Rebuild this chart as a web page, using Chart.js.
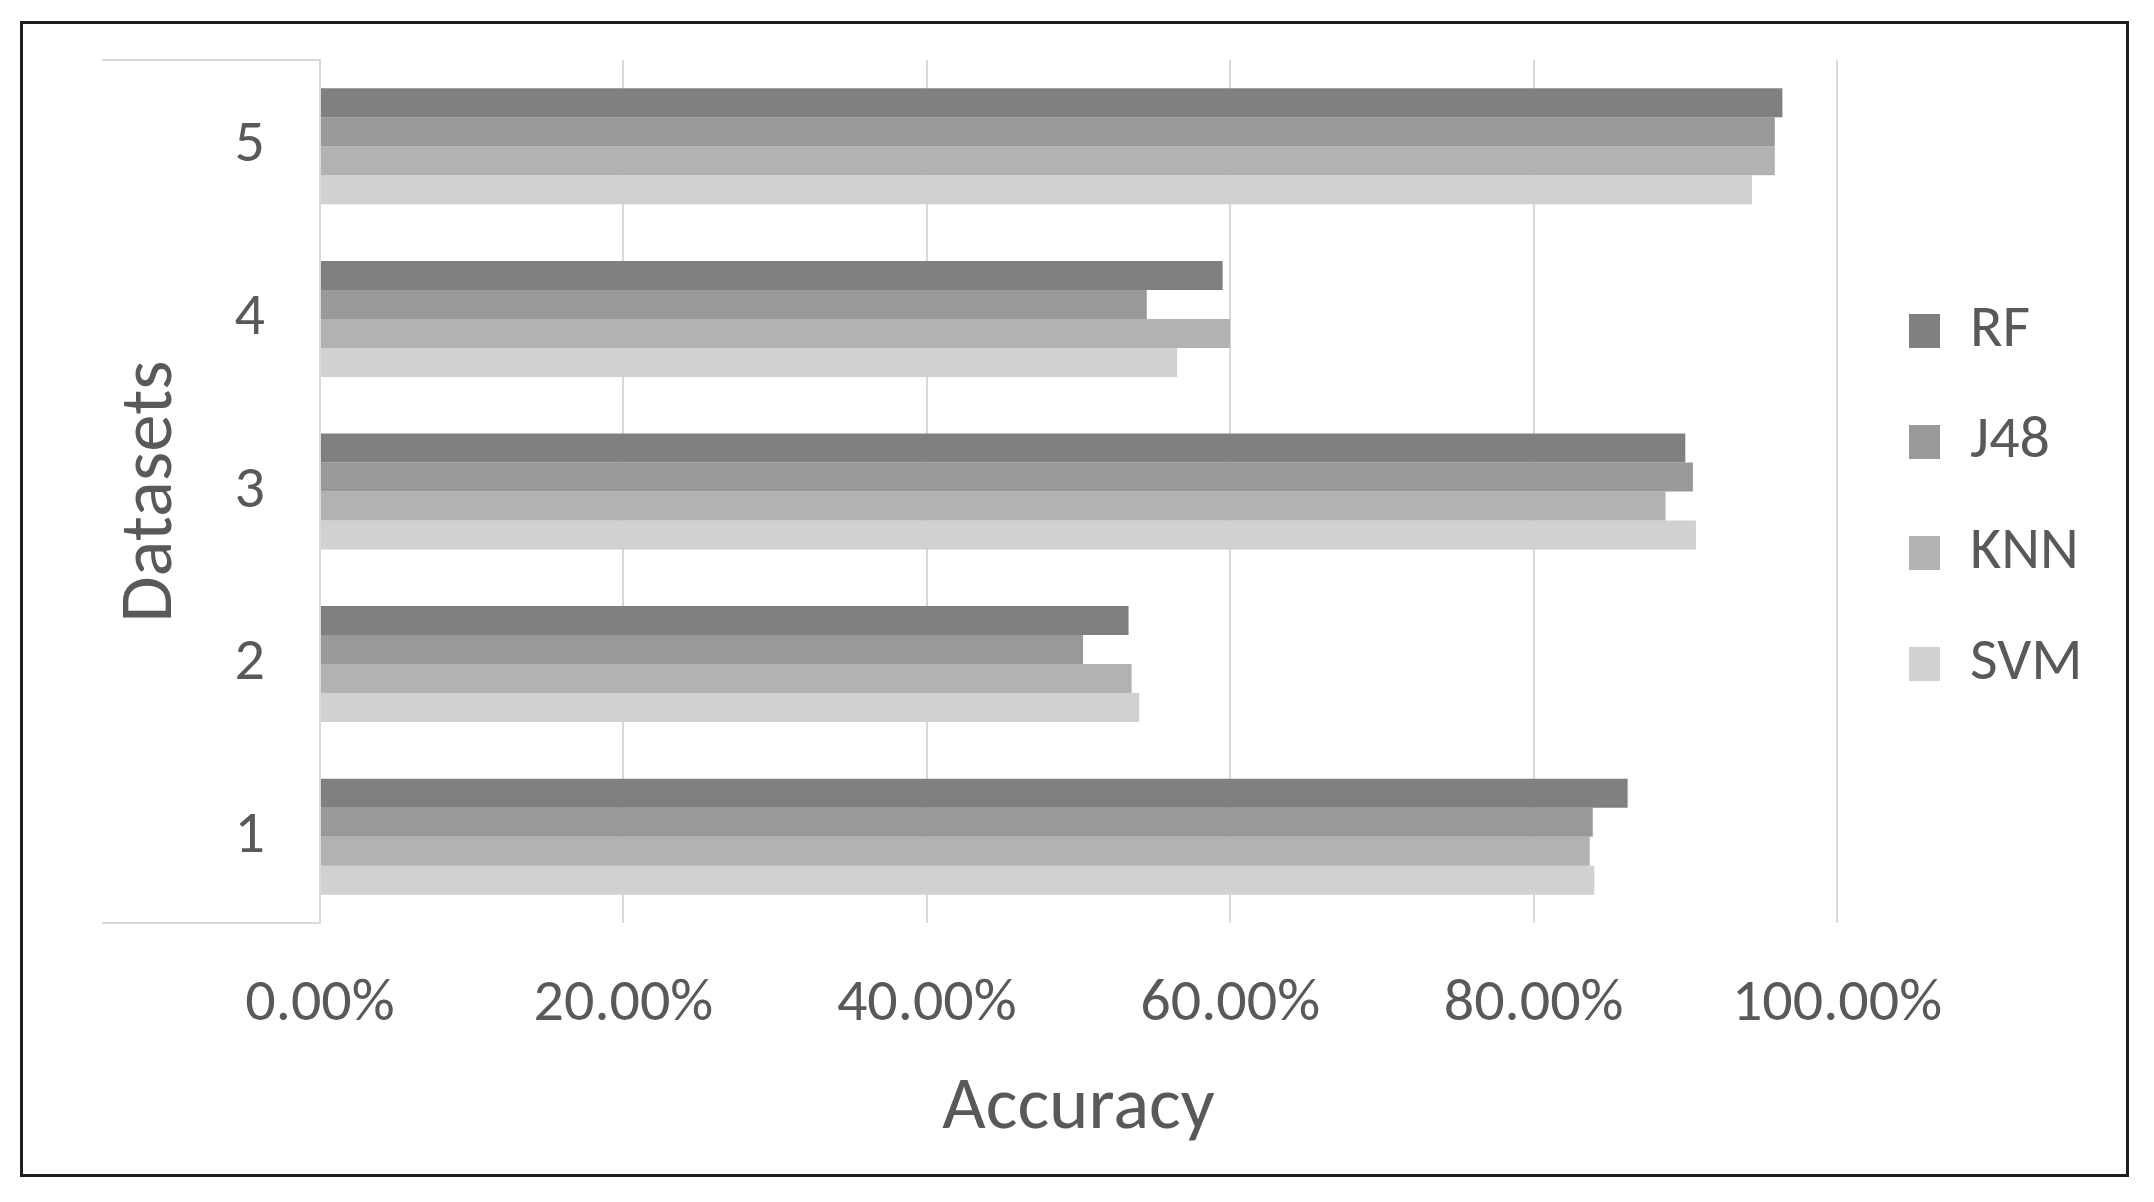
<!DOCTYPE html>
<html>
<head>
<meta charset="utf-8">
<title>Accuracy by dataset</title>
<script src="https://cdn.jsdelivr.net/npm/chart.js@4.4.0/dist/chart.umd.min.js"></script>
<style>
  body { margin: 0; background: #fff; }
  #frame { position: absolute; left: 20px; top: 21px; width: 2103px; height: 1150px; border: 3px solid #1e1e1e; }
</style>
</head>
<body>
<div id="frame"><canvas id="accChart"></canvas></div>
<script>
// accuracy (%) per dataset, datasets 1..5
var datasetLabels = ["1", "2", "3", "4", "5"];
var rfAcc = [86.2, 53.3, 90.0, 59.5, 96.4];
var j48Acc = [83.9, 50.3, 90.5, 54.5, 95.9];
var knnAcc = [83.7, 53.5, 88.7, 60.0, 95.9];
var svmAcc = [84.0, 54.0, 90.7, 56.5, 94.4];
var accuracyTicks = [0, 20, 40, 60, 80, 100];

var fontFamily = "Carlito, Calibri, 'Liberation Sans Narrow', 'Open Sans', sans-serif";
var textGrey = "#595959";
var lineGrey = "#d9d9d9";

// short grey lines left of the plot at its top and bottom edge
var axisStubs = {
  id: "axisStubs",
  beforeDatasetsDraw: function (chart) {
    var a = chart.chartArea;
    var ctx = chart.ctx;
    ctx.save();
    ctx.strokeStyle = lineGrey;
    ctx.lineWidth = 2;
    ctx.beginPath();
    [a.top, a.bottom].forEach(function (y) {
      ctx.moveTo(a.left - 218, y);
      ctx.lineTo(a.left, y);
    });
    ctx.stroke();
    ctx.restore();
  }
};

// push the legend a bit away from the plot (and don't clip its text)
var legendNudge = {
  id: "legendNudge",
  afterLayout: function (chart) {
    chart.legend.left += 21;
    chart.legend.right = chart.width;
    chart.legend.top += 6;
    chart.legend.bottom += 6;
  }
};

Chart.defaults.font.family = fontFamily;
Chart.defaults.color = textGrey;

var ctx = document.getElementById("accChart").getContext("2d");
var accChart = new Chart(ctx, {
  type: "bar",
  data: {
    labels: datasetLabels,
    datasets: [
      { label: "RF", data: rfAcc, backgroundColor: "#808080" },
      { label: "J48", data: j48Acc, backgroundColor: "#999999" },
      { label: "KNN", data: knnAcc, backgroundColor: "#b2b2b2" },
      { label: "SVM", data: svmAcc, backgroundColor: "#d1d1d1" }
    ]
  },
  options: {
    indexAxis: "y",
    responsive: true,
    maintainAspectRatio: false,
    animation: false,
    categoryPercentage: 0.672,
    barPercentage: 1.0,
    borderWidth: 0,
    layout: { padding: { top: 36, right: 89, bottom: 0, left: 0 } },
    scales: {
      x: {
        min: accuracyTicks[0],
        max: accuracyTicks[accuracyTicks.length - 1],
        afterBuildTicks: function (scale) {
          scale.ticks = accuracyTicks.map(function (v) { return { value: v }; });
        },
        afterFit: function (scale) { scale.height = 251; },
        grid: { color: lineGrey, lineWidth: 2, drawTicks: false },
        border: { display: false },
        ticks: {
          padding: 46,
          font: { size: 60 },
          callback: function (v) { return v.toFixed(2) + "%"; }
        },
        title: {
          display: true,
          text: "Accuracy",
          font: { size: 75 },
          padding: { top: 0, bottom: 20 }
        }
      },
      y: {
        reverse: true,
        afterFit: function (scale) {
          scale.width = 297;
          scale.paddingTop = 0;
          scale.paddingBottom = 0;
        },
        grid: { display: false, drawTicks: false },
        border: { display: true, color: lineGrey, width: 2 },
        ticks: { padding: 55, font: { size: 60 } },
        title: {
          display: true,
          text: "Datasets",
          font: { size: 75 },
          padding: { top: 84, bottom: 0 }
        }
      }
    },
    plugins: {
      legend: {
        position: "right",
        fullSize: false,
        maxWidth: 200,
        labels: {
          boxWidth: 31,
          boxHeight: 34,
          padding: 51,
          font: { size: 60 }
        }
      },
      tooltip: { enabled: false }
    }
  },
  plugins: [axisStubs, legendNudge]
});
</script>
</body>
</html>
